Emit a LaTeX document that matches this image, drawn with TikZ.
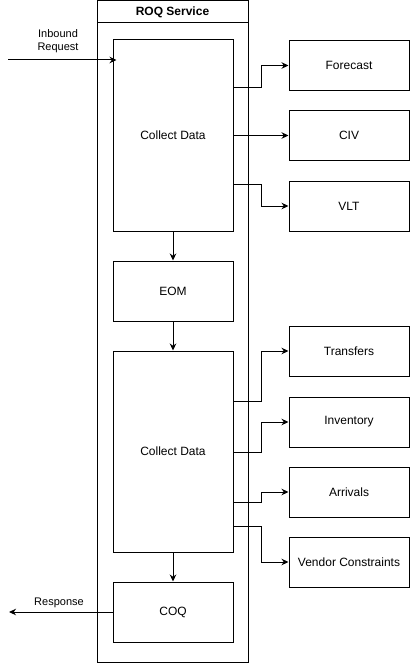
\documentclass[tikz,border=0pt]{standalone}
\usepackage{fontspec}
\setmainfont{Liberation Sans}
\usetikzlibrary{arrows.meta}

\begin{document}
\begin{tikzpicture}[x=1pt,y=-1pt,line width=1pt,font=\fontsize{12}{14}\selectfont,
  box/.style={shape=rectangle,draw=black,minimum width=120,inner sep=0pt},
  boxS/.style={box,minimum height=50},
  arr/.style={-{Stealth[length=7pt,width=6.5pt]}}]
\def\xin{173};
\def\xout{349};
\def\xbend{261};

\useasboundingbox (0,0) rectangle (410,663);

\node[box,minimum width=151,minimum height=661] (svc) at (172.5,331.5) {};
\node[box,minimum width=151,minimum height=22,font=\fontsize{12}{14}\selectfont\bfseries] (title) at (172.5,12) {ROQ Service};

\node[box,minimum height=191] (cd1) at (\xin,135.5) {Collect Data};
\node[box,minimum height=60] (eom) at (\xin,291) {EOM};
\node[box,minimum height=201] (cd2) at (\xin,451.5) {Collect Data};
\node[box,minimum height=60] (coq) at (\xin,612) {COQ};

\draw[arr] (cd1.south) -- (eom.north);
\draw[arr] (eom.south) -- (cd2.north);
\draw[arr] (cd2.south) -- (coq.north);

\node[boxS] (fc) at (\xout,65.5) {Forecast};
\node[boxS] (civ) at (\xout,135.5) {CIV};
\node[boxS] (vlt) at (\xout,206) {VLT};
\draw[arr] (cd1.east |- 0,88) -- (\xbend,88) |- (fc.west);
\draw[arr] (cd1.east |- civ.west) -- (civ.west);
\draw[arr] (cd1.east |- 0,184) -- (\xbend,184) |- (vlt.west);

\node[boxS] (tr) at (\xout,351) {Transfers};
\node[boxS] (inv) at (\xout,422) {Inventory};
\node[boxS] (arv) at (\xout,492) {Arrivals};
\node[boxS] (vc) at (\xout,562) {Vendor Constraints};
\draw[arr] (cd2.east |- 0,401) -- (\xbend,401) |- (tr.west);
\draw[arr] (cd2.east |- 0,452) -- (\xbend,452) |- (inv.west);
\draw[arr] (cd2.east |- 0,502) -- (\xbend,502) |- (arv.west);
\draw[arr] (cd2.east |- 0,526) -- (\xbend,526) |- (vc.west);

\coordinate (in) at (8,60);
\node[align=center,font=\fontsize{11}{12.5}\selectfont] (inlbl) at (58,41) {Inbound\\Request};
\draw[arr] (in) -- ([xshift=4]cd1.west |- in);

\coordinate (out) at (9,612);
\node[font=\fontsize{11}{12.5}\selectfont] (outlbl) at (59,603) {Response};
\draw[arr] (coq.west) -- (out);
\end{tikzpicture}
\end{document}
